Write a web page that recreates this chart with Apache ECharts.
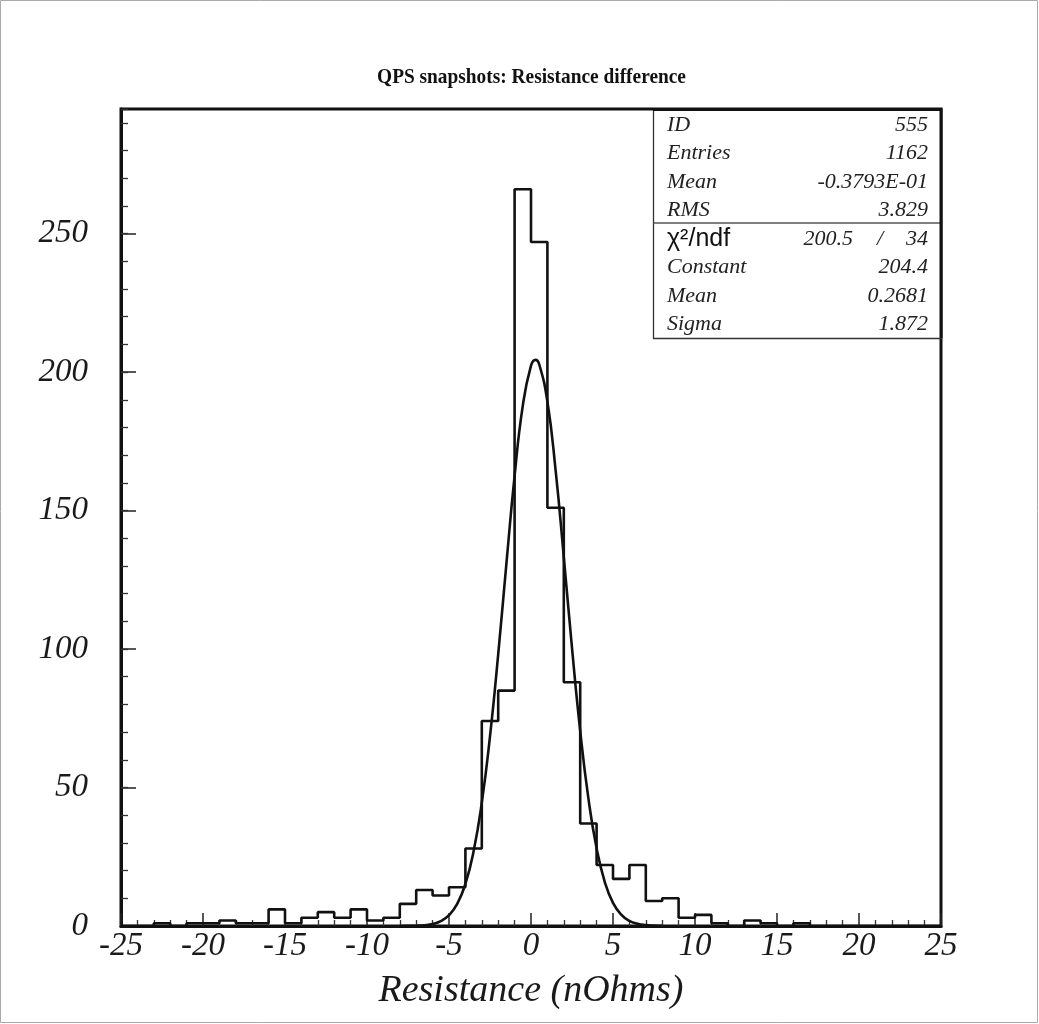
<!DOCTYPE html>
<html><head><meta charset="utf-8">
<script src="https://cdn.jsdelivr.net/npm/echarts@6/dist/echarts.min.js"></script>
<style>html,body{margin:0;padding:0;background:#fff}#c{width:1039px;height:1024px}</style>
</head><body><div id="c"></div>
<script>
// Histogram: left edges of the 1-unit bins and their counts
const binLeftEdges = [-25,-24,-23,-22,-21,-20,-19,-18,-17,-16,-15,-14,-13,-12,-11,-10,-9,-8,-7,-6,-5,-4,-3,-2,-1,0,1,2,3,4,5,6,7,8,9,10,11,12,13,14,15,16,17,18,19,20,21,22,23,24];
const binCounts    = [0,0,1,0,1,1,2,1,1,6,1,3,5,3,6,2,3,8,13,11,14,28,74,85,266,247,151,88,37,22,17,22,9,10,3,4,1,0,2,1,0,1,0,0,0,0,0,0,0,0];
const binUpperEdge = 25;
// Gaussian fit curve
const fitX = [-8,-7.5,-7,-6.5,-6,-5.5,-5,-4.5,-4,-3.5,-3,-2.5,-2,-1.5,-1,-0.5,0,0.27,0.5,1,1.5,2,2.5,3,3.5,4,4.5,5,5.5,6,6.5,7,7.5,8];
const fitY = [0.01,0.04,0.11,0.30,0.75,1.77,3.90,7.97,15.19,26.96,44.53,68.49,98.11,130.85,162.50,187.90,202.31,204.4,202.84,189.36,164.60,133.23,100.41,70.47,46.06,28.03,15.88,8.37,4.11,1.88,0.80,0.32,0.12,0.04];
// Axis ranges / ticks
const xRange = [-25, 25];
const yRange = [0, 295];
// Texts
const chartTitle = 'QPS snapshots: Resistance difference';
const xTitle = 'Resistance (nOhms)';
const statNames  = ['ID','Entries','Mean','RMS'];
const statValues = ['555','1162','-0.3793E-01','3.829'];
const chiLabel = 'χ²/ndf';
const chiValue = '200.5';
const ndfValue = '34';
const fitNames  = ['Constant','Mean','Sigma'];
const fitValues = ['204.4','0.2681','1.872'];

const histData = binLeftEdges.map((e,i)=>[e, binCounts[i]]);
histData.push([binUpperEdge, binCounts[binCounts.length-1]]);
const fitData = fitX.map((x,i)=>[x, fitY[i]]);

const serif = '"Liberation Serif", "Times New Roman", serif';
const labelStyle = {fontFamily: serif, fontStyle:'italic', fontSize: 33, color:'#1a1a1a'};

const chart = echarts.init(document.getElementById('c'), null, {renderer:'canvas'});

const statFont = 'italic 22px ' + serif;
const statTexts = [];
const rowY1 = [125,153,182,210];
statNames.forEach((n,i)=>{
  statTexts.push({type:'text', x:667, y:rowY1[i], style:{text:n, font:statFont, fill:'#222', textVerticalAlign:'middle', textAlign:'left'}, z:20});
  statTexts.push({type:'text', x:928, y:rowY1[i], style:{text:statValues[i], font:statFont, fill:'#222', textVerticalAlign:'middle', textAlign:'right'}, z:20});
});
statTexts.push({type:'text', x:667, y:239, style:{text:chiLabel, font:'25px "Liberation Sans", Arial, sans-serif', fill:'#111', textVerticalAlign:'middle', textAlign:'left'}, z:20});
statTexts.push({type:'text', x:853, y:239, style:{text:chiValue, font:statFont, fill:'#222', textVerticalAlign:'middle', textAlign:'right'}, z:20});
statTexts.push({type:'text', x:880, y:239, style:{text:'/', font:statFont, fill:'#222', textVerticalAlign:'middle', textAlign:'center'}, z:20});
statTexts.push({type:'text', x:928, y:239, style:{text:ndfValue, font:statFont, fill:'#222', textVerticalAlign:'middle', textAlign:'right'}, z:20});
const rowY2 = [267,296,324];
fitNames.forEach((n,i)=>{
  statTexts.push({type:'text', x:667, y:rowY2[i], style:{text:n, font:statFont, fill:'#222', textVerticalAlign:'middle', textAlign:'left'}, z:20});
  statTexts.push({type:'text', x:928, y:rowY2[i], style:{text:fitValues[i], font:statFont, fill:'#222', textVerticalAlign:'middle', textAlign:'right'}, z:20});
});

const option = {
  animation:false,
  backgroundColor:'#fff',
  grid:{left:121, top:109, width:820, height:817, show:true, borderColor:'#111', borderWidth:3, backgroundColor:'transparent'},
  xAxis:[{type:'value', min:xRange[0], max:xRange[1], interval:5,
    axisLine:{show:true, onZero:false, lineStyle:{color:'#111', width:3}},
    axisTick:{show:true, inside:true, length:13, lineStyle:{color:'#222', width:1.5}},
    minorTick:{show:true, splitNumber:5, length:6, lineStyle:{color:'#333', width:1.3}},
    axisLabel:Object.assign({margin:4}, labelStyle),
    splitLine:{show:false},
    name:xTitle, nameLocation:'middle', nameGap:46,
    nameTextStyle:{fontFamily:serif, fontStyle:'italic', fontSize:38, color:'#1a1a1a'}
  }],
  yAxis:[{type:'value', min:yRange[0], max:yRange[1], interval:50,
    axisLine:{show:true, onZero:false, lineStyle:{color:'#111', width:3}},
    axisTick:{show:true, inside:true, length:15, lineStyle:{color:'#222', width:1.5}},
    axisLabel:Object.assign({margin:33, showMaxLabel:false}, labelStyle),
    splitLine:{show:false}
  },{type:'value', min:yRange[0], max:yRange[1], interval:10, position:'left',
    axisLine:{show:false, onZero:false},
    axisTick:{show:true, inside:true, length:7, lineStyle:{color:'#333', width:1.3}},
    axisLabel:{show:false}, splitLine:{show:false}
  }],
  series:[
    {type:'line', name:'hist', data:histData, step:'end', symbol:'none',
     lineStyle:{color:'#111', width:2.6}, z:5},
    {type:'line', name:'fit', data:fitData, smooth:true, symbol:'none',
     lineStyle:{color:'#111', width:2.6}, z:6}
  ],
  graphic:[
    {type:'rect', shape:{x:0.5, y:0.5, width:1037, height:1022}, style:{fill:'none', stroke:'#aaa', lineWidth:1}, z:1},
    {type:'text', x:531.5, y:77, scaleX:0.88, style:{text:chartTitle, font:'bold 22px '+serif, fill:'#111', textAlign:'center', textVerticalAlign:'middle'}, z:5},
    {type:'rect', shape:{x:653.5, y:110, width:288, height:228.5}, style:{fill:'#fff', stroke:'#333', lineWidth:1.3}, z:10},
    {type:'line', shape:{x1:653.5, y1:223, x2:941, y2:223}, style:{stroke:'#555', lineWidth:1.3}, z:11},
    {type:'line', shape:{x1:653, y1:109.5, x2:942, y2:109.5}, style:{stroke:'#111', lineWidth:3}, z:11},
    {type:'line', shape:{x1:941, y1:108, x2:941, y2:338}, style:{stroke:'#111', lineWidth:3}, z:11}
  ].concat(statTexts)
};
chart.setOption(option);
</script></body></html>
